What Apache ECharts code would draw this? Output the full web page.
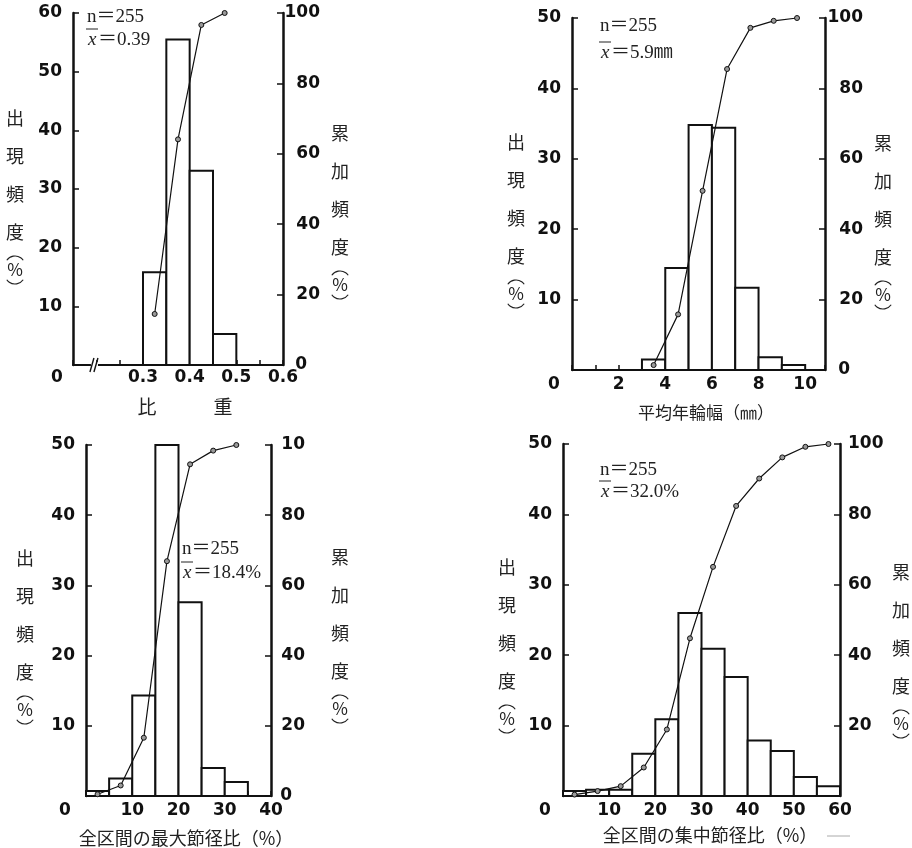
<!DOCTYPE html>
<html>
<head>
<meta charset="utf-8">
<script src="https://cdn.jsdelivr.net/npm/echarts@6/dist/echarts.min.js"></script>
<style>
  html, body { margin: 0; padding: 0; background: #fff; }
  #c { width: 912px; height: 848px; }
</style>
</head>
<body>
<div id="c"></div>
<script>
// ---- 比重 (specific gravity) ----
const sgEdges = [0.30, 0.35, 0.40, 0.45, 0.50];
const sgFreq = [15.8, 55.5, 33.1, 5.3];
const sgCumX = [0.325, 0.375, 0.425, 0.475];
const sgCum = [14.5, 64.1, 96.6, 100];
const sgXTickVals = [0.15, 0.3, 0.4, 0.5, 0.6];
const sgXTickText = ['0', '0.3', '0.4', '0.5', '0.6'];

// ---- 平均年輪幅 (mean ring width, mm) ----
const rwEdges = [3, 4, 5, 6, 7, 8, 9, 10];
const rwFreq = [1.5, 14.5, 34.8, 34.4, 11.7, 1.8, 0.7];
const rwCumX = [3.5, 4.55, 5.6, 6.65, 7.65, 8.65, 9.65];
const rwCum = [1.4, 15.8, 50.9, 85.5, 97.2, 99.2, 100];
const rwXTickVals = [0, 2, 4, 6, 8, 10];
const rwXTickText = ['0', '2', '4', '6', '8', '10'];

// ---- 全区間の最大節径比 (%) ----
const mkEdges = [0, 5, 10, 15, 20, 25, 30, 35];
const mkFreq = [0.7, 2.5, 14.3, 50.0, 27.6, 4.0, 2.0];
const mkCumX = [2.5, 7.5, 12.5, 17.5, 22.5, 27.5, 32.5];
const mkCum = [0.5, 3.0, 16.6, 66.9, 94.5, 98.4, 100];
const mkXTickVals = [0, 10, 20, 30, 40];
const mkXTickText = ['0', '10', '20', '30', '40'];

// ---- 全区間の集中節径比 (%) ----
const ckEdges = [0, 5, 10, 15, 20, 25, 30, 35, 40, 45, 50, 55, 60];
const ckFreq = [0.7, 0.9, 0.9, 6.0, 10.9, 26.0, 20.9, 16.9, 7.9, 6.4, 2.7, 1.4];
const ckCumX = [2.5, 7.5, 12.5, 17.5, 22.5, 27.5, 32.5, 37.5, 42.5, 47.5, 52.5, 57.5];
const ckCum = [0.4, 1.4, 2.8, 8.1, 18.9, 44.8, 65.1, 82.4, 90.2, 96.2, 99.2, 100];
const ckXTickVals = [0, 10, 20, 30, 40, 50, 60];
const ckXTickText = ['0', '10', '20', '30', '40', '50', '60'];

// ---- y tick labels (origin 0 is printed on the x row) ----
const freqTicks60 = ['', '10', '20', '30', '40', '50', '60'];
const freqTicks50 = ['', '10', '20', '30', '40', '50'];
const cumTicks = ['0', '20', '40', '60', '80', '100'];
const cumTicksCut = ['0', '20', '40', '60', '80', '10'];
const cumTicksNoZero = ['', '20', '40', '60', '80', '100'];

// ---- texts ----
const sampleSize = 'n＝255';
const meanTexts = ['0.39', '5.9㎜', '18.4%', '32.0%'];
const xNames = ['比　　　重', '平均年輪幅（㎜）', '全区間の最大節径比（%）', '全区間の集中節径比（%）'];
const leftName = ['出', '現', '頻', '度'];
const rightName = ['累', '加', '頻', '度'];

const NUM_FONT = { fontFamily: 'DejaVu Sans', fontWeight: 'bold', fontSize: 17, color: '#111' };
const CJK = "'Noto Sans CJK JP', sans-serif";
const SERIF = "'Liberation Serif', 'Noto Sans CJK JP', serif";
const INK = '#111';

const panels = [
  { grid: { left: 73, top: 13, width: 210, height: 352 },
    x: { min: 0.15, max: 0.6, interval: 0.05, vals: sgXTickVals, text: sgXTickText, margin: 4, shift: 32 },
    yMax: 60, leftTicks: freqTicks60, rightTicks: cumTicks, rightMargin: 37, rightAlign: 'right',
    edges: sgEdges, freq: sgFreq, cumX: sgCumX, cum: sgCum },
  { grid: { left: 572, top: 18, width: 253, height: 352 },
    x: { min: 0, max: 10.85, interval: 1, vals: rwXTickVals, text: rwXTickText, margin: 6, shift: 36 },
    yMax: 50, leftTicks: freqTicks50, rightTicks: cumTicks, rightMargin: 38, rightAlign: 'right',
    edges: rwEdges, freq: rwFreq, cumX: rwCumX, cum: rwCum },
  { grid: { left: 86, top: 445, width: 185, height: 351 },
    x: { min: 0, max: 40, interval: 5, vals: mkXTickVals, text: mkXTickText, margin: 6, shift: 42 },
    yMax: 50, leftTicks: freqTicks50, rightTicks: cumTicksCut, rightMargin: 34, rightAlign: 'right',
    edges: mkEdges, freq: mkFreq, cumX: mkCumX, cum: mkCum },
  { grid: { left: 563, top: 444, width: 277, height: 352 },
    x: { min: 0, max: 60, interval: 5, vals: ckXTickVals, text: ckXTickText, margin: 6, shift: 36 },
    yMax: 50, leftTicks: freqTicks50, rightTicks: cumTicksNoZero, rightMargin: 8, rightAlign: 'left',
    edges: ckEdges, freq: ckFreq, cumX: ckCumX, cum: ckCum }
];

const grids = [], xAxes = [], yAxes = [], series = [];

panels.forEach((p, i) => {
  grids.push(Object.assign({ containLabel: false }, p.grid));

  xAxes.push({
    type: 'value', gridIndex: i, min: p.x.min, max: p.x.max, interval: p.x.interval,
    axisLine: { show: true, onZero: false, lineStyle: { color: INK, width: 2 } },
    axisTick: { show: true, inside: true, length: 5, lineStyle: { color: INK, width: 1.5 } },
    splitLine: { show: false },
    axisLabel: Object.assign({}, NUM_FONT, {
      margin: p.x.margin,
      formatter: (v) => {
        const k = p.x.vals.findIndex(t => Math.abs(t - v) < 1e-6);
        if (k < 0) return '';
        return k === 0 ? '{o|' + p.x.text[k] + '}' : p.x.text[k];
      },
      rich: { o: Object.assign({}, NUM_FONT, { padding: [0, p.x.shift, 0, 0] }) }
    })
  });

  yAxes.push({
    type: 'value', gridIndex: i, position: 'left', min: 0, max: p.yMax, interval: 10,
    axisLine: { show: true, onZero: false, lineStyle: { color: INK, width: 2.5 } },
    axisTick: { show: true, inside: true, length: 6, lineStyle: { color: INK, width: 1.5 } },
    splitLine: { show: false },
    axisLabel: Object.assign({}, NUM_FONT, {
      margin: 11,
      formatter: (v) => p.leftTicks[Math.round(v / 10)] || ''
    })
  });

  yAxes.push({
    type: 'value', gridIndex: i, position: 'right', min: 0, max: 100, interval: 20,
    axisLine: { show: true, onZero: false, lineStyle: { color: INK, width: 2.5 } },
    axisTick: { show: true, inside: true, length: 6, lineStyle: { color: INK, width: 1.5 } },
    splitLine: { show: false },
    axisLabel: Object.assign({}, NUM_FONT, {
      margin: p.rightMargin, align: p.rightAlign,
      formatter: (v) => {
        const s = p.rightTicks[Math.round(v / 20)] || '';
        return s === '0' ? '{z|0}' : s;
      },
      rich: { z: Object.assign({}, NUM_FONT, { padding: [0, 13, 0, 0] }) }
    })
  });

  // histogram bars spanning each class interval
  series.push({
    type: 'custom', xAxisIndex: i, yAxisIndex: 2 * i, z: 2,
    data: p.freq.map((f, k) => [p.edges[k], p.edges[k + 1], f]),
    encode: { x: [0, 1], y: 2 },
    renderItem: (params, api) => {
      const top = api.coord([api.value(0), api.value(2)]);
      const base = api.coord([api.value(1), 0]);
      return {
        type: 'rect',
        shape: { x: top[0], y: top[1], width: base[0] - top[0], height: base[1] - top[1] },
        style: { fill: '#fff', stroke: INK, lineWidth: 2 }
      };
    }
  });

  // cumulative frequency curve
  series.push({
    type: 'line', xAxisIndex: i, yAxisIndex: 2 * i + 1, z: 3,
    data: p.cumX.map((x, k) => [x, p.cum[k]]),
    symbol: 'circle', symbolSize: 5, showSymbol: true,
    lineStyle: { color: INK, width: 1.2 },
    itemStyle: { color: '#999', borderColor: INK, borderWidth: 1 }
  });
});

const chart = echarts.init(document.getElementById('c'));
chart.setOption({
  animation: false,
  backgroundColor: '#fff',
  grid: grids, xAxis: xAxes, yAxis: yAxes, series: series
});

// ---- text and decorations ----
const g = [];

function txt(x, y, text, font, align) {
  g.push({
    type: 'text', x: x, y: y, z: 10,
    style: { text: text, font: font, fill: '#222', align: align || 'center', verticalAlign: 'middle',
             textAlign: align || 'center', textVerticalAlign: 'middle' }
  });
}

function arc(cx, cy, a0, a1) {
  g.push({ type: 'arc', z: 10,
           shape: { cx: cx, cy: cy, r: 10, startAngle: a0, endAngle: a1, clockwise: true },
           style: { stroke: '#222', lineWidth: 1.2, fill: null } });
}

// vertical axis title: four characters then a vertically set (%)
function vname(x, y0, chars) {
  const step = 38;
  chars.forEach((c, k) => txt(x, y0 + k * step, c, '18px ' + CJK));
  const yp = y0 + 4 * step;
  txt(x, yp, '%', '17px ' + CJK);
  const d = 35 * Math.PI / 180;
  arc(x, yp - 4, Math.PI + d, 2 * Math.PI - d);   // upper bracket
  arc(x, yp + 4, d, Math.PI - d);                 // lower bracket
}

vname(15, 118, leftName);  vname(340, 133, rightName);
vname(516, 142, leftName); vname(883, 143, rightName);
vname(25, 558, leftName);  vname(340, 557, rightName);
vname(507, 567, leftName); vname(901, 572, rightName);

txt(185, 407, xNames[0], '19px ' + CJK);
txt(706, 413, xNames[1], '17px ' + CJK);
txt(186, 838, xNames[2], '18px ' + CJK);
txt(710, 835, xNames[3], '18px ' + CJK);
g.push({ type: 'line', z: 10, shape: { x1: 827, y1: 836, x2: 850, y2: 836 },
         style: { stroke: '#aaa', lineWidth: 1 } });

// sample size and mean
function note(x, yN, yX, mean) {
  txt(x, yN, sampleSize, '19px ' + SERIF, 'left');
  txt(x + 1, yX, 'x', 'italic 19px ' + SERIF, 'left');
  g.push({ type: 'line', z: 10, shape: { x1: x - 1, y1: yX - 11, x2: x + 11, y2: yX - 11 },
           style: { stroke: '#222', lineWidth: 1 } });
  txt(x + 11, yX, '＝' + mean, '19px ' + SERIF, 'left');
}
note(87, 17, 40, meanTexts[0]);
note(600, 26, 53, meanTexts[1]);
note(182, 549, 573, meanTexts[2]);
note(600, 470, 492, meanTexts[3]);

// axis break on the specific-gravity scale
const bx = chart.convertToPixel({ xAxisIndex: 0 }, 0.197);
const by = chart.convertToPixel({ yAxisIndex: 0 }, 0);
g.push({ type: 'rect', z: 10, shape: { x: bx - 4, y: by - 3, width: 7, height: 6 }, style: { fill: '#fff' } });
g.push({ type: 'line', z: 11, shape: { x1: bx - 5, y1: by + 7, x2: bx - 1, y2: by - 7 }, style: { stroke: INK, lineWidth: 1.4 } });
g.push({ type: 'line', z: 11, shape: { x1: bx - 1, y1: by + 7, x2: bx + 3, y2: by - 7 }, style: { stroke: INK, lineWidth: 1.4 } });

chart.setOption({ graphic: g });
</script>
</body>
</html>
